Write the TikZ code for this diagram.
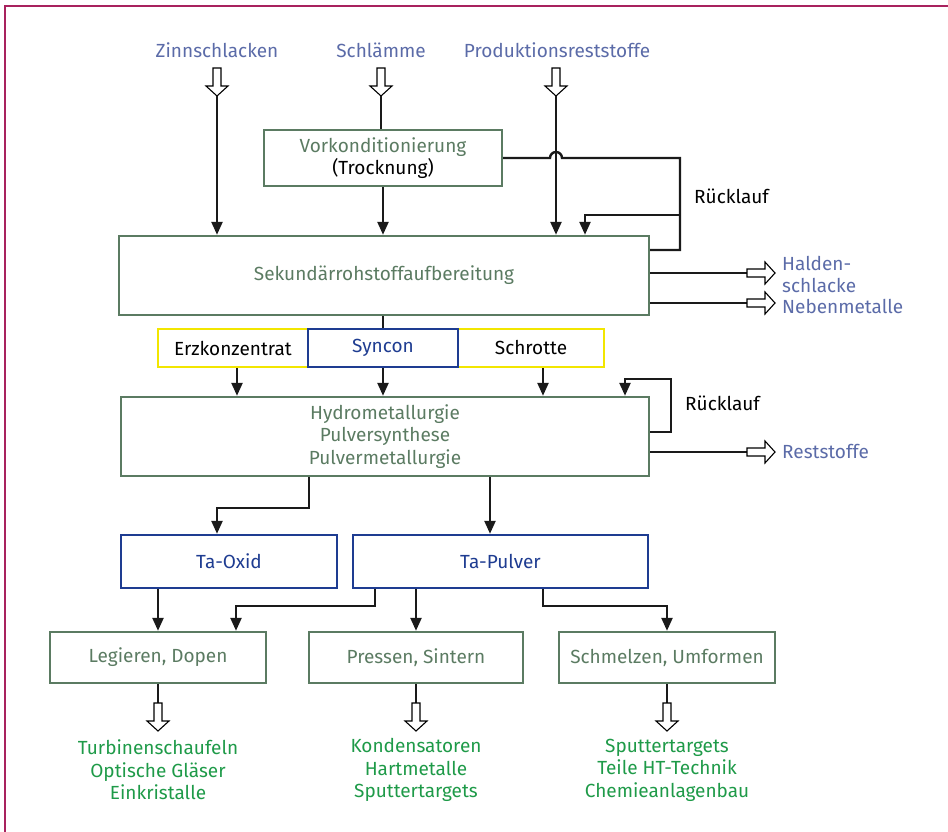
\documentclass[tikz,border=0pt]{standalone}
\usepackage{fontspec}
\setmainfont{Fira Sans}
\usetikzlibrary{arrows.meta}
\definecolor{framec}{HTML}{A8225E}
\definecolor{boxgreen}{HTML}{5B7B62}
\definecolor{titleblue}{HTML}{5B6BA8}
\definecolor{boxblue}{HTML}{1E3C91}
\definecolor{boxyellow}{HTML}{F2E600}
\definecolor{prodgreen}{HTML}{1E9A48}
\definecolor{linec}{HTML}{1A1A1A}
\tikzset{
  txt/.style={font=\fontsize{19}{22.5}\selectfont, inner sep=0pt, align=center},
  gbox/.style={txt, draw=boxgreen, line width=2.4pt, text=boxgreen},
  bbox/.style={txt, draw=boxblue, line width=2.4pt, text=boxblue},
  ybox/.style={txt, draw=boxyellow, line width=2.4pt, text=black},
  title/.style={txt, text=titleblue},
  prod/.style={txt, text=prodgreen, font=\fontsize{19}{22.5}\selectfont},
  line/.style={draw=linec, line width=2.4pt},
  conn/.style={line, -{Triangle[length=13pt,width=11pt]}},
  hollow/.style={draw=black, line width=1.1pt, fill=white, line join=miter},
  hdown/.pic={\draw[hollow] (-4,-28) -- (4,-28) -- (4,-10) -- (11,-10) -- (0,0) -- (-11,-10) -- (-4,-10) -- cycle;},
  hright/.pic={\draw[hollow] (-28,-4) -- (-10,-4) -- (-10,-11) -- (0,0) -- (-10,11) -- (-10,4) -- (-28,4) -- cycle;}
}
\begin{document}
\begin{tikzpicture}[x=1pt,y=-1pt]
\useasboundingbox (0,0) rectangle (948,832);
\draw[framec, line width=2pt] (5,832) -- (5,6) -- (948,6);

% top labels
\node[title] (zinn) at (217,50) {Zinnschlacken};
\node[title] (schl) at (381,50) {Schlämme};
\node[title] (prodr) at (557,50) {Produktionsreststoffe};

% boxes
\node[gbox, minimum width=238pt, minimum height=56pt] (vork) at (383,158) {Vorkonditionierung\\\textcolor{black}{(Trocknung)}};
\node[gbox, minimum width=530pt, minimum height=79pt] (sek) at (384,275.5) {Sekundärrohstoffaufbereitung};
\node[ybox, minimum width=150pt, minimum height=38pt] (erz) at (233,348) {Erzkonzentrat};
\node[ybox, minimum width=146pt, minimum height=38pt] (schr) at (531,348) {Schrotte};
\node[bbox, minimum width=150pt, minimum height=38pt] (syn) at (383,348) {Syncon};
\node[gbox, minimum width=528pt, minimum height=79pt] (hydro) at (385,436.5) {Hydrometallurgie\\Pulversynthese\\Pulvermetallurgie};
\node[bbox, minimum width=216pt, minimum height=53pt] (taox) at (229,561.5) {Ta-Oxid};
\node[bbox, minimum width=295pt, minimum height=53pt] (taps) at (500.5,561.5) {Ta-Pulver};
\node[gbox, minimum width=216pt, minimum height=51pt] (leg) at (158,657.5) {Legieren, Dopen};
\node[gbox, minimum width=214pt, minimum height=51pt] (press) at (416,657.5) {Pressen, Sintern};
\node[gbox, minimum width=216pt, minimum height=51pt] (schm) at (667,657.5) {Schmelzen, Umformen};

% right labels
\node[txt, anchor=west] (rl1) at (694,196) {Rücklauf};
\node[txt, anchor=west] (rl2) at (685,403) {Rücklauf};
\node[title, anchor=west, align=left, font=\fontsize{19}{21.5}\selectfont] (halde) at (782,285) {Halden-\\schlacke\\Nebenmetalle};
\node[title, anchor=west] (rest) at (782,451) {Reststoffe};

% products
\node[prod] (p1) at (158,770) {Turbinenschaufeln\\Optische Gläser\\Einkristalle};
\node[prod] (p2) at (416,770) {Kondensatoren\\Hartmetalle\\Sputtertargets};
\node[prod] (p3) at (667,770) {Sputtertargets\\Teile HT-Technik\\Chemieanlagenbau};

% input hollow arrows
\coordinate (zt) at (217,96);
\coordinate (st) at (381,96);
\coordinate (pt) at (556,96);
\pic at (zt) {hdown};
\pic at (st) {hdown};
\pic at (pt) {hdown};
\draw[conn] (zt) -- (zt |- sek.north);
\draw[line] (st) -- (st |- vork.north);
\draw[conn] (pt) -- (pt |- sek.north);
\draw[conn] (vork.south) -- (vork.south |- sek.north);

% Ruecklauf top
\coordinate (ra) at (680,158);
\coordinate (rb) at (680,250);
\coordinate (rc) at (680,215);
\coordinate (rd) at (585,215);
\draw[line, line join=miter] (vork.east) -- (550,158) arc[start angle=180, end angle=0, radius=6pt] -- (ra) -- (rb) -- (sek.east |- rb);
\draw[conn] (rc) -- (rd) -- (rd |- sek.north);

% outputs right of sek
\coordinate (h1) at (775,273);
\coordinate (h2) at (775,303);
\draw[line] (sek.east |- h1) -- (749,273);
\draw[line] (sek.east |- h2) -- (749,303);
\pic at (h1) {hright};
\pic at (h2) {hright};

% sek -> middle
\draw[line] (sek.south -| syn.north) -- (syn.north);
\draw[conn] ([xshift=4pt]erz.south) -- ([xshift=4pt]erz.south |- hydro.north);
\draw[conn] (syn.south) -- (syn.south |- hydro.north);
\draw[conn] ([xshift=12pt]schr.south) -- ([xshift=12pt]schr.south |- hydro.north);

% hydro loop
\coordinate (la) at (671,432);
\coordinate (lb) at (671,379);
\coordinate (lc) at (625,379);
\draw[conn] (hydro.east |- la) -- (la) -- (lb) -- (lc) -- (lc |- hydro.north);
\coordinate (h3) at (775,452);
\draw[line] (hydro.east |- h3) -- (749,452);
\pic at (h3) {hright};

% hydro -> Ta
\coordinate (ta1) at (309,508);
\coordinate (ta2) at (217,508);
\draw[conn] (hydro.south -| ta1) -- (ta1) -- (ta2) -- (ta2 |- taox.north);
\coordinate (ta3) at (490,0);
\draw[conn] (hydro.south -| ta3) -- (taps.north -| ta3);

% Ta -> processing
\coordinate (x1) at (158,0);
\draw[conn] (taox.south -| x1) -- (leg.north -| x1);
\coordinate (q1) at (375,606);
\coordinate (q2) at (236,606);
\draw[conn] (taps.south -| q1) -- (q1) -- (q2) -- (q2 |- leg.north);
\draw[conn] (taps.south -| press.north) -- (press.north);
\coordinate (q3) at (543,606);
\coordinate (q4) at (667,606);
\draw[conn] (taps.south -| q3) -- (q3) -- (q4) -- (q4 |- schm.north);

% bottom outputs
\coordinate (b1) at (158,731);
\coordinate (b2) at (416,731);
\coordinate (b3) at (667,731);
\draw[line] (leg.south) -- (158,704);
\draw[line] (press.south) -- (416,704);
\draw[line] (schm.south) -- (667,704);
\pic at (b1) {hdown};
\pic at (b2) {hdown};
\pic at (b3) {hdown};
\end{tikzpicture}
\end{document}
